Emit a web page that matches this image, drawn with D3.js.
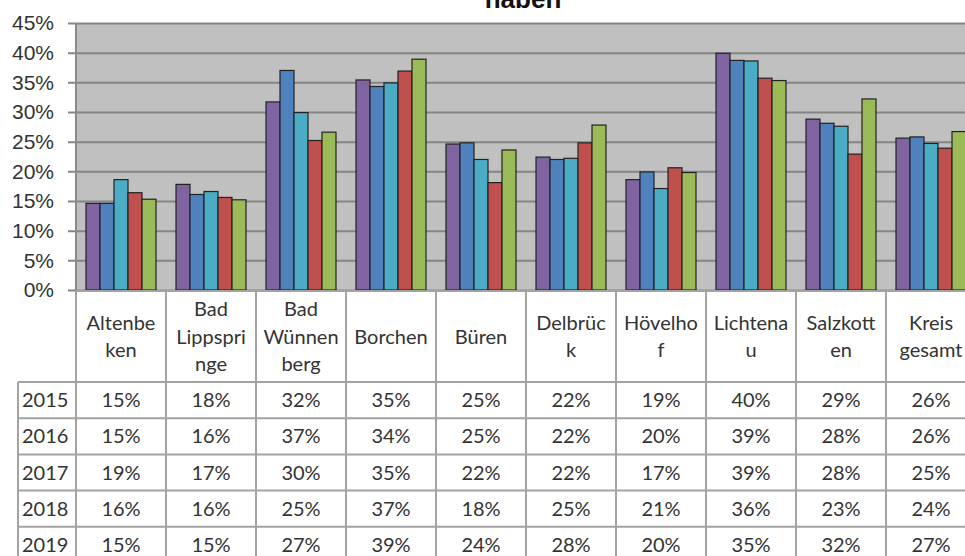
<!DOCTYPE html>
<html>
<head>
<meta charset="utf-8">
<script src="https://cdn.jsdelivr.net/npm/d3@7"></script>
<style>
  body { margin: 0; background: #fff; }
  svg { display: block; }
</style>
</head>
<body>
<div id="chart"></div>
<script>
// data (share per municipality and year)
const categories = ["Altenbeken", "Bad Lippspringe", "Bad Wünnenberg", "Borchen", "Büren",
    "Delbrück", "Hövelhof", "Lichtenau", "Salzkotten", "Kreis gesamt"];
// the wrapped header labels as they appear in the table
const categoryLines = [["Altenbe", "ken"], ["Bad", "Lippspri", "nge"], ["Bad", "Wünnen", "berg"],
    ["Borchen"], ["Büren"], ["Delbrüc", "k"], ["Hövelho", "f"], ["Lichtena", "u"],
    ["Salzkott", "en"], ["Kreis", "gesamt"]];
const years = ["2015", "2016", "2017", "2018", "2019"];
const values2015 = [0.146, 0.178, 0.317, 0.354, 0.246, 0.224, 0.186, 0.399, 0.288, 0.256];
const values2016 = [0.146, 0.161, 0.370, 0.343, 0.248, 0.220, 0.199, 0.387, 0.281, 0.258];
const values2017 = [0.186, 0.166, 0.299, 0.349, 0.220, 0.222, 0.171, 0.386, 0.276, 0.247];
const values2018 = [0.164, 0.156, 0.252, 0.369, 0.181, 0.248, 0.206, 0.357, 0.229, 0.239];
const values2019 = [0.153, 0.152, 0.266, 0.389, 0.236, 0.278, 0.198, 0.353, 0.322, 0.267];
const yTicks = [0, 0.05, 0.10, 0.15, 0.20, 0.25, 0.30, 0.35, 0.40, 0.45];
const titleTail = "haben";

const series = [values2015, values2016, values2017, values2018, values2019];
const colors = ["#8064A2", "#4F81BD", "#4BACC6", "#C0504D", "#9BBB59"];

// layout
const W = 965, H = 556;
const plot = { left: 76, right: 976, top: 23, bottom: 290 };
const table = { left: 18, headerBottom: 382, bottom: 563 };

const svg = d3.select("#chart").append("svg")
    .attr("width", W)
    .attr("height", H);

// scales
const x = d3.scaleBand().domain(categories).range([plot.left, plot.right]);
const xInner = d3.scaleBand().domain(years).range([10, 80]);
const y = d3.scaleLinear().domain([0, 0.45]).range([plot.bottom, plot.top]);
const rowY = d3.scaleBand().domain(years).range([table.headerBottom, table.bottom]);
const color = d3.scaleOrdinal().domain(years).range(colors);

// title (only the last line is visible at the top edge)
svg.append("text")
    .attr("x", 523)
    .attr("y", 8)
    .attr("text-anchor", "middle")
    .style("font-family", "'Liberation Sans', Arial, sans-serif")
    .style("font-weight", "bold")
    .style("font-size", "26px")
    .style("fill", "#111")
    .text(titleTail);

// plot background
svg.append("rect")
    .attr("x", plot.left)
    .attr("y", plot.top)
    .attr("width", plot.right - plot.left)
    .attr("height", plot.bottom - plot.top)
    .attr("fill", "#c0c0c0");

// y axis with gridlines across the plot
const yAxis = svg.append("g")
    .attr("transform", "translate(68,0)")
    .call(d3.axisLeft(y)
        .tickValues(yTicks)
        .tickFormat(d3.format(".0%"))
        .tickSizeInner(-(plot.right - 68))
        .tickSizeOuter(0)
        .tickPadding(14));
yAxis.select(".domain").remove();
yAxis.selectAll(".tick line")
    .attr("stroke", "#858585")
    .attr("stroke-width", 2);
yAxis.selectAll(".tick text")
    .style("font-family", "'Liberation Sans', Arial, sans-serif")
    .style("font-size", "21px")
    .style("fill", "#333");

// left border of the plot
svg.append("line")
    .attr("x1", plot.left).attr("x2", plot.left)
    .attr("y1", plot.top).attr("y2", plot.bottom)
    .attr("stroke", "#8a8a8a")
    .attr("stroke-width", 2);

// bars
years.forEach((yr, i) => {
    svg.append("g")
        .selectAll("rect")
        .data(series[i])
        .join("rect")
        .attr("x", (d, j) => x(categories[j]) + xInner(yr))
        .attr("y", d => y(d))
        .attr("width", xInner.bandwidth())
        .attr("height", d => y(0) - y(d))
        .attr("fill", color(yr))
        .attr("stroke", "#222")
        .attr("stroke-width", 1.2);
});

// data table below the plot
const tableFont = "Lato, 'Open Sans', sans-serif";
const lineColor = "#a3a3a3";
const gTable = svg.append("g");

// horizontal lines
gTable.append("line")
    .attr("x1", plot.left).attr("x2", plot.right)
    .attr("y1", 291).attr("y2", 291)
    .attr("stroke", lineColor).attr("stroke-width", 2);
gTable.selectAll(".hline")
    .data(years.map(yr => rowY(yr)).concat([table.bottom]))
    .join("line")
    .attr("class", "hline")
    .attr("x1", table.left).attr("x2", plot.right)
    .attr("y1", d => d).attr("y2", d => d)
    .attr("stroke", lineColor).attr("stroke-width", 2);

// vertical lines
gTable.selectAll(".vline")
    .data(categories.map(c => x(c)).concat([plot.right]))
    .join("line")
    .attr("class", "vline")
    .attr("x1", d => d).attr("x2", d => d)
    .attr("y1", 291).attr("y2", table.bottom)
    .attr("stroke", lineColor).attr("stroke-width", 2);
gTable.append("line")
    .attr("x1", table.left).attr("x2", table.left)
    .attr("y1", table.headerBottom).attr("y2", table.bottom)
    .attr("stroke", lineColor).attr("stroke-width", 2);

// header labels
const lineStep = 27.5;
categories.forEach((c, j) => {
    const lines = categoryLines[j];
    const t = gTable.append("text")
        .attr("text-anchor", "middle")
        .style("font-family", tableFont)
        .style("font-size", "20px")
        .style("fill", "#333");
    lines.forEach((ln, k) => {
        t.append("tspan")
            .attr("x", x(c) + x.bandwidth() / 2)
            .attr("y", 343.5 + (k - (lines.length - 1) / 2) * lineStep)
            .text(ln);
    });
});

// year labels and values
const pct = d3.format(".0%");
years.forEach((yr, i) => {
    const cy = rowY(yr) + rowY.bandwidth() / 2 + 7;
    gTable.append("text")
        .attr("x", 22)
        .attr("y", cy)
        .style("font-family", tableFont)
        .style("font-size", "20px")
        .style("fill", "#333")
        .text(yr);
    gTable.append("g")
        .selectAll("text")
        .data(series[i])
        .join("text")
        .attr("x", (d, j) => x(categories[j]) + x.bandwidth() / 2)
        .attr("y", cy)
        .attr("text-anchor", "middle")
        .style("font-family", tableFont)
        .style("font-size", "20px")
        .style("fill", "#333")
        .text(d => pct(d));
});
</script>
</body>
</html>
